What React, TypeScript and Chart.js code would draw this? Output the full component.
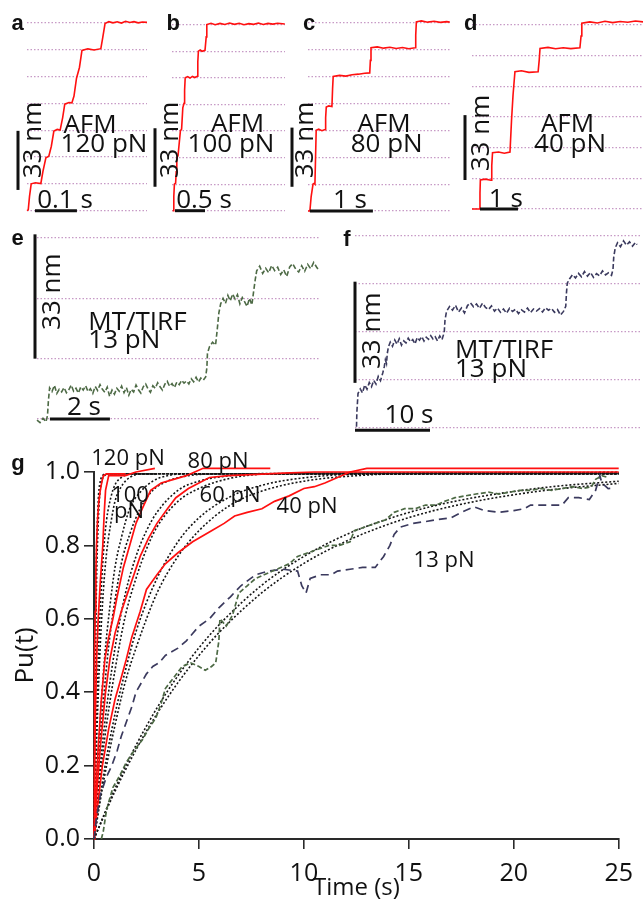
import { useEffect, useRef } from 'react';
import { Chart, registerables } from 'chart.js';

Chart.register(...registerables);

type Pt = [number, number];

const SANS = '"Open Sans", "Noto Sans", sans-serif';
const BOLD = '"Liberation Sans", Arial, sans-serif';
Chart.defaults.font.family = SANS;

// ---------------- data: panels a-d (AFM step traces, nm vs s) ----------------
const gridABC = [0, 15, 30, 45, 60, 75, 90, 105];
const gridD = [0, 15.6, 31.2, 46.8, 62.4, 78, 93.6];
const gridE = [0, 16.5, 33, 49.5];
const gridF = [0, 15.6, 31.2, 46.8, 62.4];

const traceA: Pt[] = [[0,0],[0.003,0.5],[0.006,8],[0.01,15],[0.02,15.6],[0.033,15.2],[0.038,22],[0.045,29.5],[0.052,30.4],[0.058,36],[0.064,44.5],[0.072,45.4],[0.079,45],[0.085,52],[0.09,59.5],[0.1,60.4],[0.107,60.2],[0.112,64],[0.118,74],[0.125,80],[0.131,89.5],[0.145,90.4],[0.16,89.8],[0.176,90.5],[0.18,96],[0.186,104.5],[0.195,105.6],[0.205,104.9],[0.215,105.5],[0.225,104.8],[0.235,105.8],[0.245,105.1],[0.255,105.6],[0.265,104.9],[0.275,105.4],[0.286,105.2]];
const traceB: Pt[] = [[0.01,0],[0.02,0],[0.03,8],[0.04,15],[0.06,15.5],[0.07,22],[0.08,30],[0.1,31],[0.12,38],[0.14,45],[0.16,46],[0.18,58],[0.2,60.5],[0.21,68],[0.22,75],[0.26,75.6],[0.3,74.8],[0.34,75.7],[0.38,75.1],[0.42,75.8],[0.43,84],[0.44,90],[0.47,90.6],[0.5,89.9],[0.55,90.4],[0.57,98],[0.58,105],[0.65,105.7],[0.72,104.9],[0.8,105.6],[0.88,105],[0.96,105.8],[1.04,105.1],[1.12,105.7],[1.2,104.9],[1.28,105.5],[1.36,105.1],[1.44,105.8],[1.52,105],[1.6,105.6],[1.68,105.2],[1.76,105.7],[1.88,105.3]];
const traceC: Pt[] = [[0,0],[0.03,0],[0.05,8],[0.08,15],[0.1,15.4],[0.11,15],[0.12,30],[0.13,45],[0.17,45.6],[0.22,44.8],[0.27,45.4],[0.28,52],[0.29,58],[0.33,58.6],[0.38,58.2],[0.39,68],[0.4,75],[0.5,75.6],[0.6,75.2],[0.7,76],[0.8,76.3],[0.9,76.8],[0.98,77],[0.99,84],[1.0,91],[1.1,91.5],[1.2,90.8],[1.3,91.3],[1.4,90.6],[1.5,91.2],[1.6,90.5],[1.7,91],[1.71,98],[1.72,105.5],[1.8,106],[1.9,105.3],[2.0,105.8],[2.1,105.2],[2.2,105.6],[2.25,105.3]];
const traceD: Pt[] = [[0,0],[0.2,0],[0.21,8],[0.22,14.8],[0.35,15.2],[0.5,14.6],[0.52,22],[0.54,28.6],[0.7,29],[0.85,28.4],[1.0,29],[1.04,45],[1.08,58],[1.13,69.8],[1.3,70.3],[1.5,69.5],[1.74,69.8],[1.77,76],[1.79,81.7],[2.0,82.2],[2.2,81.5],[2.4,82],[2.6,81.6],[2.84,82],[2.87,88],[2.89,94.5],[3.1,95.2],[3.3,94.6],[3.5,95.5],[3.7,94.8],[3.9,95.4],[4.1,95],[4.3,95.6],[4.5,95.2]];

// ---------------- data: panels e, f (MT/TIRF traces) ----------------
const traceE: Pt[] = [[0,-0.3],[0.1,-1],[0.2,0.2],[0.3,-0.8],[0.35,1],[0.38,5],[0.42,8.5],[0.5,7.5],[0.58,9.2],[0.66,7],[0.74,8.1],[0.82,7.4],[0.9,8.6],[0.98,7.2],[1.06,8],[1.14,9.3],[1.22,7.6],[1.3,8.4],[1.38,7.1],[1.46,8.8],[1.54,7.9],[1.62,9.1],[1.7,7.5],[1.78,8.3],[1.86,7],[1.94,8.9],[2.02,7.8],[2.1,9.4],[2.18,8.1],[2.26,7.3],[2.34,8.7],[2.42,6.2],[2.5,7.9],[2.58,6.8],[2.66,8.4],[2.74,7.6],[2.82,9.0],[2.9,7.2],[2.98,8.6],[3.06,6.5],[3.14,8.1],[3.22,7.4],[3.3,9.3],[3.38,8.0],[3.46,7.1],[3.54,8.8],[3.62,9.6],[3.7,8.2],[3.78,7.3],[3.86,9.1],[3.94,8.4],[4.02,9.9],[4.1,8.8],[4.18,7.9],[4.26,9.5],[4.34,10.3],[4.42,8.9],[4.5,9.7],[4.58,8.6],[4.66,10.1],[4.74,9.4],[4.82,10.6],[4.9,9.8],[4.98,10.4],[5.06,9.6],[5.14,11],[5.22,10.2],[5.3,11.4],[5.38,10.1],[5.46,11.2],[5.54,10.6],[5.62,11.5],[5.66,14],[5.68,18],[5.75,19.8],[5.85,21],[5.95,20.2],[6.0,24],[6.06,29],[6.12,31.5],[6.2,33],[6.28,31.6],[6.36,33.8],[6.44,32.3],[6.52,34.2],[6.6,32.8],[6.68,34],[6.76,31.5],[6.84,33.2],[6.92,32],[7.0,30.8],[7.08,33],[7.16,31.2],[7.22,35],[7.27,38],[7.32,40.5],[7.42,41.8],[7.52,39.8],[7.62,41.2],[7.72,40],[7.82,42],[7.92,40.6],[8.02,41.5],[8.12,39.5],[8.22,40.8],[8.32,39],[8.42,41.6],[8.52,42.5],[8.62,41],[8.72,40.2],[8.82,41.9],[8.92,40.4],[9.02,42.3],[9.12,41.1],[9.22,42.8],[9.32,41.5],[9.4,40.6]];
const traceF: Pt[] = [[0.2,0.2],[0.25,5],[0.4,11],[0.7,12.5],[1.0,11.2],[1.3,13.8],[1.6,12.4],[1.9,14.6],[2.2,13.2],[2.5,15.3],[2.8,14.1],[3.1,16.6],[3.4,15.2],[3.7,17.7],[3.9,19.7],[4.05,22],[4.2,20.8],[4.3,24],[4.45,26.2],[4.7,27.8],[5.0,26.4],[5.3,28.5],[5.6,27.1],[5.9,28.9],[6.2,26.8],[6.5,28.2],[6.8,27.5],[7.1,29.1],[7.4,27.9],[7.7,28.6],[8.0,27.2],[8.3,29.3],[8.6,28.4],[8.9,29.6],[9.2,28.1],[9.5,29.4],[9.8,28.7],[10.1,29.9],[10.4,28.8],[10.7,29.5],[11.0,28.2],[11.3,29.8],[11.6,28.6],[11.9,31],[12.0,35],[12.2,37.8],[12.6,39.4],[13.0,38.2],[13.4,39.8],[13.8,37.6],[14.2,38.9],[14.6,37.3],[15.0,39.7],[15.4,40.6],[15.8,39.3],[16.2,40.2],[16.6,38.8],[17.0,40.5],[17.4,39.1],[17.8,38.4],[18.2,39.6],[18.6,37.9],[19.0,38.9],[19.4,37.5],[19.8,38.6],[20.2,37.2],[20.6,38.8],[21.0,37.8],[21.4,38.5],[21.8,37.1],[22.2,38.3],[22.6,37.6],[23.0,38.9],[23.4,37.4],[23.8,38.6],[24.2,37.9],[24.6,38.7],[25.0,37.6],[25.4,39],[25.8,38.2],[26.2,38.8],[26.6,37.5],[27.0,38.4],[27.4,36.6],[27.8,37.8],[28.1,39.5],[28.2,44],[28.3,47],[28.6,48.4],[29.0,49.8],[29.4,48.7],[29.8,50.2],[30.2,49.1],[30.6,50.8],[31.0,49.3],[31.4,50.5],[31.8,48.9],[32.2,50.1],[32.6,49.4],[33.0,51],[33.4,49.7],[33.8,50.4],[34.2,49.6],[34.4,51.5],[34.5,55.6],[34.7,58.5],[35.0,60.2],[35.4,58.9],[35.8,60.8],[36.2,59.4],[36.6,60.5],[37.0,59.1],[37.4,60.3],[37.6,59.6]];

// ---------------- data: panel g (Pu(t) vs time) ----------------
const gXTicks = [0, 5, 10, 15, 20, 25];
const gXLabels = ['0', '5', '10', '15', '20', '25'];
const gYTicks = [0, 0.2, 0.4, 0.6, 0.8, 1.0];
const gYLabels = ['0.0', '0.2', '0.4', '0.6', '0.8', '1.0'];

const red120: Pt[] = [[0,0],[0.01,0.2],[0.025,0.4],[0.04,0.5],[0.06,0.62],[0.09,0.73],[0.12,0.8],[0.17,0.87],[0.23,0.92],[0.3,0.95],[0.38,0.975],[0.45,0.99],[0.6,0.995],[1.5,0.995]];
const red100: Pt[] = [[0,0],[0.03,0.2],[0.07,0.35],[0.13,0.5],[0.2,0.6],[0.3,0.7],[0.42,0.8],[0.48,0.88],[0.55,0.95],[0.7,0.99],[1.5,0.99],[2.0,1.0],[2.9,1.01]];
const red80: Pt[] = [[0,0],[0.08,0.12],[0.2,0.25],[0.35,0.38],[0.52,0.49],[0.7,0.55],[0.9,0.6],[1.1,0.66],[1.4,0.74],[1.7,0.8],[2.0,0.86],[2.3,0.9],[2.7,0.95],[3.2,0.97],[3.8,0.98],[4.4,0.99],[4.8,1.0],[5.2,1.01],[8.4,1.01]];
const red60: Pt[] = [[0,0],[0.1,0.1],[0.3,0.25],[0.55,0.4],[0.76,0.49],[1.0,0.56],[1.3,0.62],[1.6,0.67],[1.9,0.72],[2.2,0.77],[2.6,0.82],[3.0,0.86],[3.5,0.9],[3.9,0.93],[4.5,0.955],[5.0,0.97],[5.5,0.985],[6.4,0.99],[7.5,0.993],[9,0.997],[10.5,1.0],[25,1.0]];
const red40: Pt[] = [[0,0],[0.15,0.08],[0.4,0.2],[0.7,0.3],[1.0,0.38],[1.3,0.44],[1.54,0.49],[1.8,0.55],[2.2,0.62],[2.5,0.68],[3.0,0.72],[3.4,0.75],[4.0,0.78],[4.7,0.81],[5.6,0.84],[6.2,0.86],[6.7,0.88],[7.3,0.89],[8.0,0.9],[8.6,0.92],[9.3,0.935],[10.0,0.955],[10.5,0.96],[11.0,0.97],[11.6,0.985],[12.2,1.0],[13,1.01],[25,1.01]];

const fit120a: Pt[] = [[0,0],[0.02,0.22],[0.04,0.39],[0.06,0.53],[0.08,0.63],[0.12,0.78],[0.16,0.86],[0.22,0.94],[0.3,0.975],[0.4,0.99],[0.6,0.995],[3,0.995]];
const fit120b: Pt[] = [[0,0],[0.02,0.18],[0.04,0.33],[0.06,0.45],[0.09,0.59],[0.13,0.73],[0.18,0.83],[0.25,0.92],[0.35,0.97],[0.5,0.99],[0.8,0.995],[3,0.995]];
const fit100a: Pt[] = [[0,0],[0.05,0.15],[0.1,0.28],[0.2,0.49],[0.3,0.63],[0.45,0.78],[0.6,0.87],[0.8,0.93],[1.0,0.965],[1.3,0.985],[1.8,0.995],[25,0.995]];
const fit100b: Pt[] = [[0,0],[0.05,0.12],[0.1,0.22],[0.2,0.39],[0.3,0.53],[0.45,0.68],[0.6,0.78],[0.8,0.86],[1.0,0.92],[1.3,0.96],[1.7,0.985],[2.3,0.995],[25,0.995]];
const fit80a: Pt[] = [[0,0],[0.1,0.12],[0.25,0.28],[0.5,0.49],[0.75,0.63],[1.0,0.74],[1.3,0.82],[1.7,0.9],[2.2,0.945],[2.8,0.975],[3.5,0.99],[4.5,0.995],[25,0.995]];
const fit80b: Pt[] = [[0,0],[0.1,0.1],[0.25,0.23],[0.5,0.41],[0.75,0.55],[1.0,0.65],[1.3,0.75],[1.7,0.83],[2.2,0.9],[2.8,0.95],[3.5,0.975],[4.5,0.99],[6,0.995],[25,0.996]];
const fit60a: Pt[] = [[0,0],[0.25,0.17],[0.5,0.31],[1.0,0.52],[1.5,0.67],[2.0,0.77],[2.5,0.84],[3.0,0.89],[4.0,0.95],[5.0,0.975],[6.5,0.99],[8.5,0.996],[25,0.997]];
const fit60b: Pt[] = [[0,0],[0.25,0.145],[0.5,0.27],[1.0,0.46],[1.5,0.61],[2.0,0.71],[2.5,0.79],[3.0,0.85],[4.0,0.92],[5.0,0.955],[6.5,0.983],[8.5,0.995],[25,0.998]];
const fit40a: Pt[] = [[0,0],[0.5,0.19],[1.0,0.34],[1.5,0.46],[2.0,0.565],[3.0,0.71],[4.0,0.81],[5.0,0.875],[6.5,0.933],[8.0,0.964],[10,0.984],[12.5,0.994],[25,0.998]];
const fit40b: Pt[] = [[0,0],[0.5,0.17],[1.0,0.31],[1.5,0.43],[2.0,0.52],[3.0,0.67],[4.0,0.77],[5.0,0.84],[6.5,0.91],[8.0,0.948],[10,0.975],[12.5,0.99],[15,0.996],[25,0.999]];
const fit13a: Pt[] = [[0,0],[1,0.137],[2,0.255],[3,0.357],[4,0.445],[5,0.521],[6,0.586],[8,0.692],[10,0.77],[12,0.829],[14,0.872],[16,0.905],[18,0.929],[20,0.947],[22,0.961],[25,0.975]];
const fit13b: Pt[] = [[0,0],[1,0.13],[2,0.243],[3,0.341],[4,0.426],[5,0.5],[6,0.565],[8,0.671],[10,0.751],[12,0.811],[14,0.857],[16,0.892],[18,0.918],[20,0.938],[22,0.953],[25,0.969]];

const green13: Pt[] = [[0.35,0],[0.44,0.02],[0.6,0.08],[0.9,0.14],[1.2,0.17],[1.55,0.21],[1.9,0.24],[2.3,0.27],[2.6,0.3],[2.95,0.33],[3.2,0.37],[3.4,0.41],[3.8,0.44],[4.2,0.47],[4.6,0.48],[5.0,0.47],[5.3,0.46],[5.6,0.47],[5.8,0.48],[5.95,0.54],[6.0,0.6],[6.3,0.58],[6.6,0.61],[6.9,0.67],[7.3,0.69],[7.7,0.71],[8.1,0.72],[8.5,0.73],[8.9,0.74],[9.3,0.75],[9.7,0.77],[10.2,0.78],[10.7,0.79],[11.2,0.8],[11.7,0.8],[12.2,0.81],[12.4,0.84],[12.9,0.85],[13.4,0.86],[13.9,0.87],[14.3,0.89],[14.8,0.9],[15.3,0.9],[15.8,0.91],[16.3,0.91],[16.7,0.92],[17.2,0.93],[17.7,0.935],[18.2,0.94],[18.8,0.945],[19.3,0.94],[19.8,0.945],[20.3,0.95],[20.8,0.95],[21.3,0.955],[21.8,0.95],[22.3,0.955],[22.8,0.96],[23.3,0.955],[23.7,0.96],[23.9,0.98],[24.2,0.99],[24.5,0.985]];
const navy13: Pt[] = [[0,0],[0.1,0.05],[0.3,0.12],[0.6,0.17],[0.85,0.2],[1.1,0.24],[1.3,0.28],[1.55,0.32],[1.8,0.36],[2.0,0.4],[2.3,0.43],[2.5,0.45],[2.8,0.47],[3.1,0.48],[3.4,0.5],[3.7,0.51],[4.0,0.52],[4.4,0.54],[4.7,0.56],[5.0,0.58],[5.5,0.6],[5.95,0.63],[6.5,0.66],[7.0,0.69],[7.7,0.72],[8.3,0.73],[9.0,0.735],[9.7,0.73],[9.9,0.69],[10.1,0.67],[10.3,0.71],[10.8,0.72],[11.3,0.72],[11.6,0.73],[12.2,0.735],[12.8,0.74],[13.4,0.74],[13.8,0.77],[14.1,0.8],[14.3,0.83],[14.6,0.85],[15.2,0.86],[15.8,0.865],[16.3,0.87],[17.0,0.875],[17.5,0.89],[18.1,0.905],[18.6,0.895],[19.3,0.89],[20.0,0.895],[20.5,0.9],[20.8,0.91],[21.5,0.91],[22.3,0.91],[22.6,0.93],[23.1,0.93],[23.6,0.925],[23.9,0.95],[24.1,0.99],[24.2,0.97],[24.5,0.955],[24.8,0.956]];

// ---------------- styles ----------------
const RED = '#ff1010';
const GREEN = '#4d6a45';
const NAVY = '#3b3a5e';
const DOTS = '#151515';
const GRIDC = '#c79ac6';
const INK = '#111111';

type Txt = { text: string; x: number; y: number; size?: number; bold?: boolean; rot?: boolean; align?: CanvasTextAlign };
type Series = { data: Pt[]; color: string; dash?: number[]; width?: number; smooth?: boolean };
type PanelCfg = {
  id: string; left: number; top: number; w: number; h: number;
  pad: { left: number; right: number; top: number; bottom: number };
  xMax: number; yMax: number; grid: number[];
  series: Series[];
  hBar: [number, number, number];
  vBar: [number, number, number];
  texts: Txt[];
};

function drawTexts(ctx: CanvasRenderingContext2D, texts: Txt[], ox: number, oy: number) {
  for (const t of texts) {
    ctx.save();
    const size = t.size ?? 26;
    ctx.font = t.bold ? `bold ${size}px ${BOLD}` : `${size}px ${SANS}`;
    ctx.fillStyle = INK;
    ctx.textAlign = t.align ?? 'center';
    ctx.textBaseline = 'alphabetic';
    ctx.translate(t.x - ox, t.y - oy);
    if (t.rot) ctx.rotate(-Math.PI / 2);
    ctx.fillText(t.text, 0, 0);
    ctx.restore();
  }
}

function toDataset(s: Series) {
  return {
    data: s.data.map(([x, y]) => ({ x, y })),
    borderColor: s.color,
    borderWidth: s.width ?? 1.6,
    borderDash: s.dash ?? [],
    pointRadius: 0,
    fill: false,
    tension: 0,
    cubicInterpolationMode: s.smooth ? ('monotone' as const) : ('default' as const),
    clip: false as const,
  };
}

const LETTER = 22;

const panels: PanelCfg[] = [
  {
    id: 'a', left: 0, top: 0, w: 152, h: 225,
    pad: { left: 27, right: 5, top: 22.7, bottom: 14.3 },
    xMax: 0.286, yMax: 105, grid: gridABC,
    series: [{ data: traceA, color: RED }],
    hBar: [0.019, 0.119, 0], vBar: [-9, 11.6, 44.6],
    texts: [
      { text: 'a', x: 17.5, y: 30, bold: true, size: LETTER },
      { text: 'AFM', x: 90, y: 132.7 },
      { text: '120 pN', x: 104, y: 151.7 },
      { text: '0.1 s', x: 65, y: 208.3 },
      { text: '33 nm', x: 40.7, y: 140, rot: true },
    ],
  },
  {
    id: 'b', left: 150, top: 0, w: 150, h: 225,
    pad: { left: 22, right: 15, top: 24.5, bottom: 14.3 },
    xMax: 1.883, yMax: 105, grid: gridABC,
    series: [{ data: traceB, color: RED }],
    hBar: [0.05, 0.55, 0], vBar: [-17, 13.5, 46.5],
    texts: [
      { text: 'b', x: 173.3, y: 30, bold: true, size: LETTER },
      { text: 'AFM', x: 237.5, y: 131.7 },
      { text: '100 pN', x: 231, y: 151.7 },
      { text: '0.5 s', x: 204, y: 208.3 },
      { text: '33 nm', x: 178.3, y: 140, rot: true },
    ],
  },
  {
    id: 'c', left: 285, top: 0, w: 175, h: 225,
    pad: { left: 23, right: 10, top: 22.7, bottom: 14 },
    xMax: 2.254, yMax: 105, grid: gridABC,
    series: [{ data: traceC, color: RED }],
    hBar: [0.03, 1.03, 0], vBar: [-16, 13.5, 46.5],
    texts: [
      { text: 'c', x: 309, y: 30, bold: true, size: LETTER },
      { text: 'AFM', x: 384, y: 131.7 },
      { text: '80 pN', x: 386.7, y: 151.7 },
      { text: '1 s', x: 350, y: 208.3 },
      { text: '33 nm', x: 313, y: 140, rot: true },
    ],
  },
  {
    id: 'd', left: 455, top: 0, w: 188, h: 225,
    pad: { left: 17, right: 0, top: 25, bottom: 16 },
    xMax: 4.5, yMax: 93.6, grid: gridD,
    series: [{ data: traceD, color: RED }],
    hBar: [0.21, 1.21, 0], vBar: [-7, 14.75, 47.75],
    texts: [
      { text: 'd', x: 470.8, y: 30, bold: true, size: LETTER },
      { text: 'AFM', x: 567.5, y: 131.7 },
      { text: '40 pN', x: 570, y: 151.7 },
      { text: '1 s', x: 505.8, y: 206.7 },
      { text: '33 nm', x: 489.3, y: 133, rot: true },
    ],
  },
  {
    id: 'e', left: 0, top: 225, w: 330, h: 215,
    pad: { left: 37, right: 10, top: 13, bottom: 21 },
    xMax: 9.43, yMax: 49.5, grid: gridE,
    series: [{ data: traceE, color: GREEN, dash: [5, 2.5], width: 1.6 }],
    hBar: [0.43, 2.43, 0], vBar: [-2, 16.5, 50.5],
    texts: [
      { text: 'e', x: 17.5, y: 245, bold: true, size: LETTER },
      { text: 'MT/TIRF', x: 88.3, y: 330, align: 'left' },
      { text: '13 pN', x: 88.3, y: 348.3, align: 'left' },
      { text: '2 s', x: 84, y: 415 },
      { text: '33 nm', x: 60, y: 291.7, rot: true },
    ],
  },
  {
    id: 'f', left: 330, top: 225, w: 313, h: 215,
    pad: { left: 25, right: 3, top: 11, bottom: 12.7 },
    xMax: 38, yMax: 62.4, grid: gridF,
    series: [{ data: traceF, color: NAVY, dash: [5, 2.5], width: 1.6 }],
    hBar: [0, 10, -1], vBar: [0, 14.5, 47.5],
    texts: [
      { text: 'f', x: 347, y: 246, bold: true, size: LETTER },
      { text: 'MT/TIRF', x: 455, y: 358.3, align: 'left' },
      { text: '13 pN', x: 455, y: 376.7, align: 'left' },
      { text: '10 s', x: 409, y: 423 },
      { text: '33 nm', x: 380, y: 330.8, rot: true },
    ],
  },
];

function Panel({ cfg }: { cfg: PanelCfg }) {
  const ref = useRef<HTMLCanvasElement>(null);
  useEffect(() => {
    const canvas = ref.current;
    if (!canvas) return;
    const annot = {
      id: 'annot_' + cfg.id,
      afterDraw(chart: any) {
        const { ctx, chartArea, scales } = chart;
        const x = scales.x;
        const y = scales.y;
        ctx.save();
        ctx.strokeStyle = INK;
        ctx.lineWidth = 3;
        ctx.lineCap = 'butt';
        const [hx0, hx1, hy] = cfg.hBar;
        ctx.beginPath();
        ctx.moveTo(x.getPixelForValue(hx0), y.getPixelForValue(hy));
        ctx.lineTo(x.getPixelForValue(hx1), y.getPixelForValue(hy));
        ctx.stroke();
        const [vo, vy0, vy1] = cfg.vBar;
        const vx = chartArea.left + vo;
        ctx.beginPath();
        ctx.moveTo(vx, y.getPixelForValue(vy0));
        ctx.lineTo(vx, y.getPixelForValue(vy1));
        ctx.stroke();
        ctx.restore();
        drawTexts(ctx, cfg.texts, cfg.left, cfg.top);
      },
    };
    const chart = new Chart(canvas, {
      type: 'line',
      data: { datasets: cfg.series.map(toDataset) as any },
      options: {
        animation: false,
        responsive: false,
        events: [],
        layout: { padding: cfg.pad },
        plugins: { legend: { display: false }, tooltip: { enabled: false } },
        scales: {
          x: { type: 'linear', display: false, min: 0, max: cfg.xMax },
          y: {
            type: 'linear',
            display: true,
            min: 0,
            max: cfg.yMax,
            afterFit: (s: any) => { s.width = 0; },
            afterBuildTicks: (s: any) => { s.ticks = cfg.grid.map((v) => ({ value: v })); },
            ticks: { display: false },
            grid: { color: GRIDC, lineWidth: 1.2, drawTicks: false },
            border: { display: false, dash: [1.5, 2] },
          },
        },
      } as any,
      plugins: [annot],
    });
    return () => chart.destroy();
  }, [cfg]);
  return (
    <canvas
      ref={ref}
      width={cfg.w}
      height={cfg.h}
      style={{ position: 'absolute', left: cfg.left, top: cfg.top, width: cfg.w, height: cfg.h }}
    />
  );
}

const G_LEFT = 0;
const G_TOP = 445;
const G_W = 643;
const G_H = 455;

const gTexts: Txt[] = [
  { text: 'g', x: 18, y: 470, bold: true, size: LETTER },
  { text: '120 pN', x: 128, y: 465, size: 22 },
  { text: '80 pN', x: 218, y: 468, size: 22 },
  { text: '100', x: 130, y: 501.7, size: 22 },
  { text: 'pN', x: 129, y: 518.3, size: 22 },
  { text: '60 pN', x: 230, y: 501.7, size: 22 },
  { text: '40 pN', x: 307, y: 513.3, size: 22 },
  { text: '13 pN', x: 444, y: 566.7, size: 22 },
];

const gSeries: Series[] = [
  { data: green13, color: GREEN, dash: [5, 2.5], width: 1.7 },
  { data: navy13, color: NAVY, dash: [8, 5], width: 1.7 },
  { data: fit13a, color: DOTS, dash: [2, 2], width: 1.6, smooth: true },
  { data: fit13b, color: DOTS, dash: [2, 2], width: 1.6, smooth: true },
  { data: red40, color: RED, width: 1.7 },
  { data: red60, color: RED, width: 1.7 },
  { data: red80, color: RED, width: 1.7 },
  { data: red100, color: RED, width: 1.7 },
  { data: red120, color: RED, width: 1.7 },
  { data: fit40a, color: DOTS, dash: [2, 2], width: 1.6, smooth: true },
  { data: fit40b, color: DOTS, dash: [2, 2], width: 1.6, smooth: true },
  { data: fit60a, color: DOTS, dash: [2, 2], width: 1.6, smooth: true },
  { data: fit60b, color: DOTS, dash: [2, 2], width: 1.6, smooth: true },
  { data: fit80a, color: DOTS, dash: [2, 2], width: 1.6, smooth: true },
  { data: fit80b, color: DOTS, dash: [2, 2], width: 1.6, smooth: true },
  { data: fit100a, color: DOTS, dash: [2, 2], width: 1.6, smooth: true },
  { data: fit100b, color: DOTS, dash: [2, 2], width: 1.6, smooth: true },
  { data: fit120a, color: DOTS, dash: [2, 2], width: 1.6, smooth: true },
  { data: fit120b, color: DOTS, dash: [2, 2], width: 1.6, smooth: true },
];

function PanelG() {
  const ref = useRef<HTMLCanvasElement>(null);
  useEffect(() => {
    const canvas = ref.current;
    if (!canvas) return;
    const annot = {
      id: 'annot_g',
      afterDraw(chart: any) {
        drawTexts(chart.ctx, gTexts, G_LEFT, G_TOP);
      },
    };
    const axisCommon = {
      grid: { display: true, drawOnChartArea: false, drawTicks: true, tickLength: 10, color: '#2a2a2a', lineWidth: 1.6 },
      border: { display: true, color: '#2a2a2a', width: 2 },
    };
    const chart = new Chart(canvas, {
      type: 'line',
      data: { datasets: gSeries.map(toDataset) as any },
      options: {
        animation: false,
        responsive: false,
        events: [],
        layout: { padding: { left: 0, right: 20, top: 27, bottom: 0 } },
        plugins: { legend: { display: false }, tooltip: { enabled: false } },
        scales: {
          x: {
            type: 'linear',
            min: 0,
            max: 25,
            afterFit: (s: any) => { s.height = 61; },
            afterBuildTicks: (s: any) => { s.ticks = gXTicks.map((v) => ({ value: v })); },
            ticks: {
              color: INK,
              padding: 10,
              font: { size: 25, family: SANS },
              maxRotation: 0,
              autoSkip: false,
              callback: (_v: any, i: number) => gXLabels[i],
            },
            title: {
              display: true,
              text: 'Time (s)',
              color: INK,
              font: { size: 24, family: SANS, lineHeight: 1 },
              padding: { top: 0, bottom: 0 },
            },
            ...axisCommon,
          },
          y: {
            type: 'linear',
            min: 0,
            max: 1,
            afterFit: (s: any) => { s.width = 94; },
            afterBuildTicks: (s: any) => { s.ticks = gYTicks.map((v) => ({ value: v })); },
            ticks: {
              color: INK,
              padding: 4,
              font: { size: 25, family: SANS },
              autoSkip: false,
              callback: (_v: any, i: number) => gYLabels[i],
            },
            title: {
              display: true,
              text: 'Pu(t)',
              color: INK,
              font: { size: 26, family: SANS, lineHeight: 1 },
              padding: { top: 13, bottom: 0 },
            },
            ...axisCommon,
          },
        },
      } as any,
      plugins: [annot],
    });
    return () => chart.destroy();
  }, []);
  return (
    <canvas
      ref={ref}
      width={G_W}
      height={G_H}
      style={{ position: 'absolute', left: G_LEFT, top: G_TOP, width: G_W, height: G_H }}
    />
  );
}

export default function App() {
  return (
    <div style={{ position: 'absolute', left: 0, top: 0, width: 643, height: 900, background: '#ffffff', overflow: 'hidden' }}>
      {panels.map((p) => (
        <Panel key={p.id} cfg={p} />
      ))}
      <PanelG />
    </div>
  );
}
